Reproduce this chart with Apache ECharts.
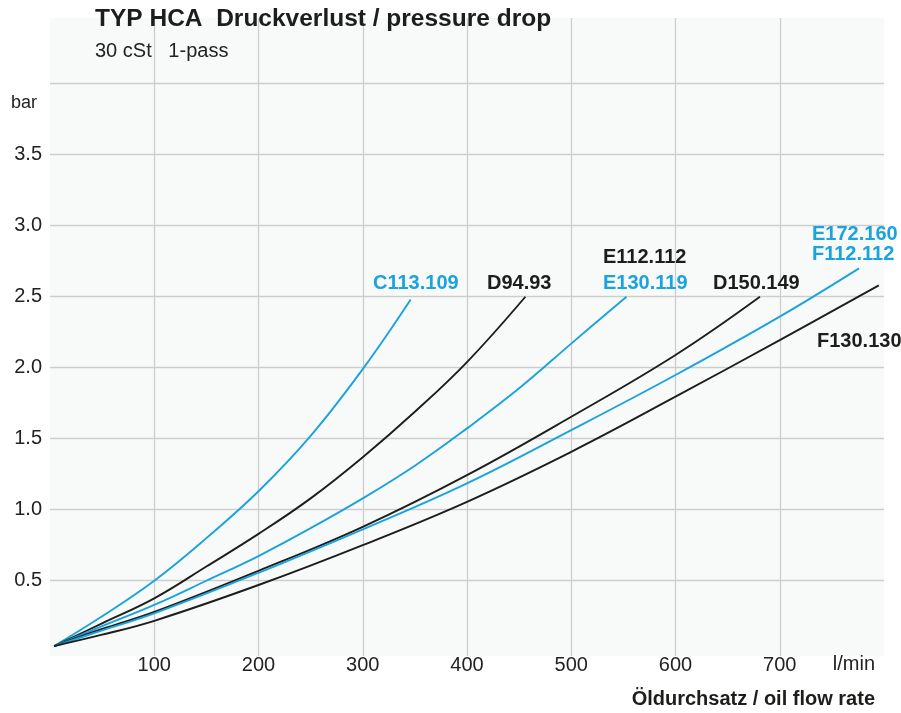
<!DOCTYPE html>
<html>
<head>
<meta charset="utf-8">
<title>TYP HCA Druckverlust</title>
<script src="https://cdn.jsdelivr.net/npm/echarts@6/dist/echarts.min.js"></script>
<style>
  html, body { margin: 0; padding: 0; background: #ffffff; }
  #chart { width: 901px; height: 713px; }
</style>
</head>
<body>
<div id="chart"></div>
<script>
// x-axis ticks (l/min) and y-axis ticks (bar)
const flowTicks = [0, 100, 200, 300, 400, 500, 600, 700, 800]
const barLines = [0.5, 1.0, 1.5, 2.0, 2.5, 3.0, 3.5, 4.0]
const barLabels = [0.5, 1.0, 1.5, 2.0, 2.5, 3.0, 3.5]

// curves: [flow l/min, pressure drop bar]
const c113 = [[4, 0.04], [50, 0.25], [100, 0.50], [150, 0.80], [200, 1.13], [250, 1.52], [300, 1.99], [346, 2.48]]
const d94 = [[4, 0.04], [50, 0.20], [100, 0.376], [150, 0.60], [200, 0.83], [250, 1.08], [300, 1.37], [350, 1.69], [400, 2.04], [456, 2.50]]
const e130 = [[4, 0.04], [50, 0.18], [100, 0.33], [150, 0.50], [200, 0.674], [250, 0.87], [300, 1.08], [350, 1.31], [400, 1.573], [450, 1.855], [500, 2.17], [553, 2.50]]
const d150 = [[4, 0.04], [50, 0.16], [100, 0.28], [200, 0.57], [300, 0.88], [400, 1.244], [500, 1.655], [600, 2.09], [681, 2.50]]
const f112 = [[4, 0.04], [50, 0.15], [100, 0.27], [200, 0.556], [300, 0.862], [400, 1.186], [500, 1.561], [600, 1.949], [700, 2.36], [776, 2.70]]
const f130 = [[4, 0.04], [50, 0.12], [100, 0.218], [200, 0.47], [300, 0.751], [400, 1.056], [500, 1.408], [600, 1.796], [700, 2.195], [795, 2.58]]

const BLUE = '#1aa3dc'
const BLACK = '#1d1d1b'
const FONT = '"Liberation Sans", Arial, Helvetica, sans-serif'

function curve (name, data, color) {
  return {
    name: name,
    type: 'line',
    data: data,
    smooth: 0.4,
    showSymbol: false,
    silent: true,
    lineStyle: { color: color, width: 1.9 }
  }
}

function label (text, x, y, color, size, bold, align) {
  return {
    type: 'text',
    x: x,
    y: y,
    z: 10,
    style: {
      text: text,
      fill: color,
      font: (bold ? 'bold ' : '') + size + 'px ' + FONT,
      align: align || 'left',
      verticalAlign: 'middle'
    }
  }
}

const chart = echarts.init(document.getElementById('chart'))
chart.setOption({
  animation: false,
  textStyle: { fontFamily: FONT },
  grid: {
    left: 50,
    right: 17,
    top: 18,
    bottom: 57,
    show: true,
    backgroundColor: '#f8fafa',
    borderWidth: 0
  },
  xAxis: {
    type: 'value',
    min: flowTicks[0],
    max: flowTicks[flowTicks.length - 1],
    interval: 100,
    axisLine: { show: false },
    axisTick: { show: false },
    splitLine: {
      show: true,
      showMinLine: false,
      showMaxLine: false,
      lineStyle: { color: '#cdcdcd', width: 1.3 }
    },
    axisLabel: {
      fontSize: 20,
      color: '#222222',
      margin: -1,
      formatter: v => (v === 0 || v === 800) ? '' : String(v)
    }
  },
  yAxis: {
    type: 'value',
    min: -0.03,
    max: 4.463,
    axisLine: { show: false },
    axisTick: { show: false, customValues: barLines },
    splitLine: {
      show: true,
      lineStyle: { color: '#cdcdcd', width: 1.3 }
    },
    axisLabel: {
      customValues: barLabels,
      fontSize: 20,
      color: '#222222',
      margin: 8,
      formatter: v => v.toFixed(1)
    }
  },
  series: [
    curve('C113.109', c113, BLUE),
    curve('D94.93', d94, BLACK),
    curve('E130.119', e130, BLUE),
    curve('D150.149', d150, BLACK),
    curve('F112.112', f112, BLUE),
    curve('F130.130', f130, BLACK)
  ],
  graphic: [
    label('TYP HCA  Druckverlust / pressure drop', 95, 19, BLACK, 24.5, true),
    label('30 cSt   1-pass', 95, 51, '#222222', 20, false),
    label('bar', 37, 103, '#222222', 18, false, 'right'),
    label('l/min', 875, 664, '#222222', 20, false, 'right'),
    label('Öldurchsatz / oil flow rate', 875, 699, BLACK, 20, true, 'right'),
    label('C113.109', 373, 283, BLUE, 20, true),
    label('D94.93', 487, 283, BLACK, 20, true),
    label('E112.112', 603, 257, BLACK, 20, true),
    label('E130.119', 603, 283, BLUE, 20, true),
    label('D150.149', 713, 283, BLACK, 20, true),
    label('E172.160', 812, 234, BLUE, 20, true),
    label('F112.112', 812, 254, BLUE, 20, true),
    label('F130.130', 817, 341, BLACK, 20, true)
  ]
})
</script>
</body>
</html>
